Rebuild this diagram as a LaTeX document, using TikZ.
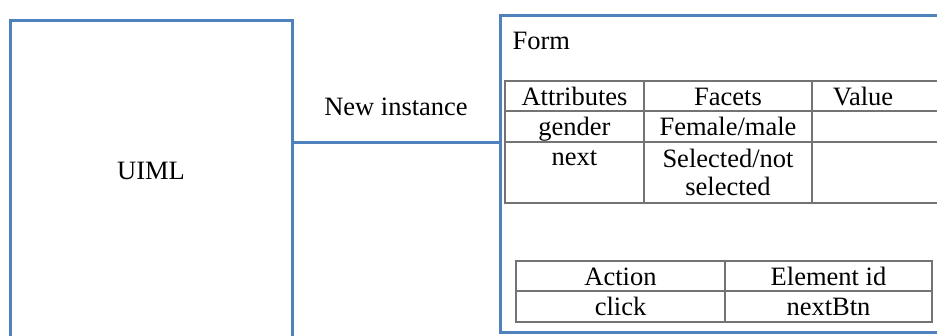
\documentclass[tikz,border=0pt]{standalone}
\usepackage{fontspec}
\setmainfont{Liberation Serif}
\usetikzlibrary{positioning}
\definecolor{boxblue}{RGB}{79,129,189}
\definecolor{gridgray}{RGB}{115,115,115}

\begin{document}
\begin{tikzpicture}[
        x=1pt, y=-1pt,
        font=\fontsize{26.5}{28}\selectfont,
        node distance=0pt,
        frame/.style={
            draw=boxblue,
            line width=3pt,
            outer sep=0pt,
            anchor=north west
        },
        cell/.style={
            draw=gridgray,
            line width=1.5pt,
            outer sep=0pt,
            inner sep=0pt,
            align=center,
            minimum height=30pt
        },
        oneline/.style={cell, text height=22pt, text depth=4pt},
        link/.style={draw=boxblue, line width=3pt}
    ]
        \useasboundingbox (0,0) rectangle (937,335);
        \clip (0,0) rectangle (937,335);

        % the two blocks
        \node[frame, minimum width=282pt, minimum height=340pt] (uiml) at (10,20) {};
        \node (uimltext) at (151,171) {UIML};
        \node[frame, minimum width=470pt, minimum height=317pt] (form) at (500,15) {};
        \node[anchor=west] (formtitle) at (509,41) {Form};

        % attributes table
        \node[oneline, anchor=north west, minimum width=139pt] (attr) at (505,81) {Attributes};
        \node[oneline, right=of attr, minimum width=168pt] (facets) {Facets};
        \node[oneline, right=of facets, minimum width=130pt] (value) {Value\hspace*{28pt}};
        \node[oneline, below=of attr, minimum width=139pt, minimum height=31pt] (gender) {gender};
        \node[oneline, right=of gender, minimum width=168pt, minimum height=31pt] (genderfacet) {Female/male};
        \node[oneline, right=of genderfacet, minimum width=130pt, minimum height=31pt] (gendervalue) {};
        \node[cell, below=of gender, minimum width=139pt, minimum height=61pt] (next) {next\\\mbox{}};
        \node[cell, right=of next, minimum width=168pt, minimum height=61pt] (nextfacet) {Selected/not\\selected};
        \node[cell, right=of nextfacet, minimum width=130pt, minimum height=61pt] (nextvalue) {};

        % events table
        \node[oneline, anchor=north west, minimum width=209pt] (action) at (516,261) {Action};
        \node[oneline, right=of action, minimum width=207pt] (elemid) {Element id};
        \node[oneline, below=of action, minimum width=209pt, minimum height=31pt] (click) {click};
        \node[oneline, right=of click, minimum width=207pt, minimum height=31pt] (nextbtn) {nextBtn};

        % instance link
        \coordinate (tap) at (0,142);
        \draw[link] (uiml.east |- tap) -- node[above=21pt] (newinst) {New instance} (form.west |- tap);
    \end{tikzpicture}
\end{document}
